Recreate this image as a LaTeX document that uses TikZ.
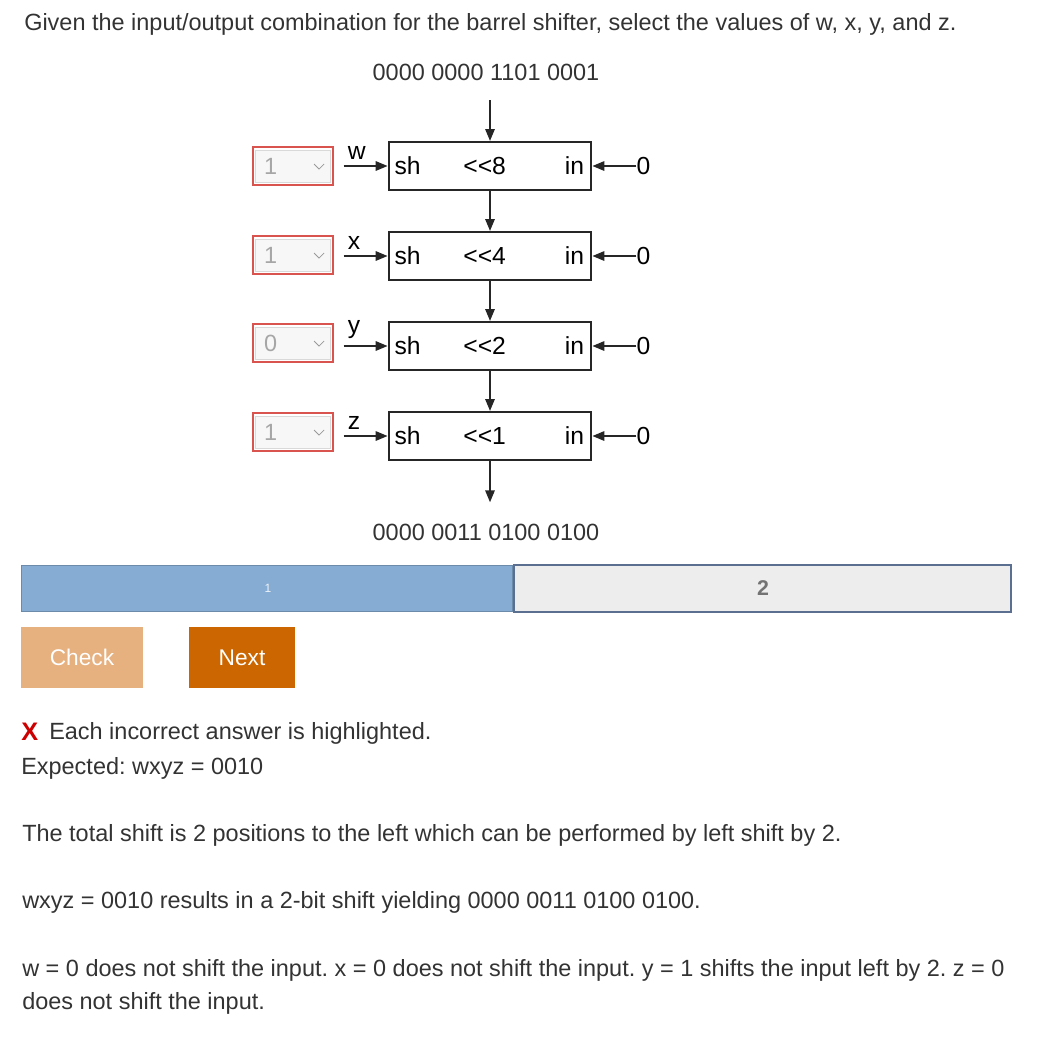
\documentclass[tikz,border=0pt]{standalone}
\usepackage{fontspec}
\setmainfont{Liberation Sans}
\usetikzlibrary{positioning,arrows.meta}
\frenchspacing

\definecolor{wrongred}{HTML}{D9534F}
\definecolor{barblue}{HTML}{87ACD3}
\definecolor{barline}{HTML}{5B6F90}
\definecolor{checkbtn}{HTML}{E6B07F}
\definecolor{nextbtn}{HTML}{CC6600}
\definecolor{bodytext}{HTML}{333333}

\tikzset{
  shbox/.style={draw=black!85, line width=1.5pt, minimum width=152pt, minimum height=36pt, inner sep=0pt},
  shtext/.style={font=\fontsize{18.5}{20}\selectfont, inner sep=0pt},
  wire/.style={-{Triangle[length=9pt,width=7pt]}, line width=1.5pt, black!85},
  pick/.style={draw=wrongred, line width=1.6pt, minimum width=60pt, minimum height=28pt, inner sep=0pt},
  pickin/.style={draw=black!15, fill=black!3, line width=0.5pt, minimum width=56pt, minimum height=24pt, inner sep=0pt},
  pickval/.style={text=black!35, inner sep=0pt},
  para/.style={anchor=base west, inner sep=0pt, text=bodytext},
  button/.style={text=white, font=\fontsize{17}{20}\selectfont}
}

\begin{document}
\begin{tikzpicture}[x=0.75pt, y=-0.75pt, font=\fontsize{17.6}{21}\selectfont]
  \useasboundingbox (0,0) rectangle (1041,1040);

  \node[para] (title) at (24,30.5) {Given the input/output combination for the barrel shifter, select the values of w, x, y, and z.};

  % barrel shifter
  \node[text=bodytext] (inword) at (486,72) {0000 0000 1101 0001};
  \node[shbox] (s8) at (490,166) {};
  \node[shbox, below=30pt of s8] (s4) {};
  \node[shbox, below=30pt of s4] (s2) {};
  \node[shbox, below=30pt of s2] (s1) {};
  \coordinate (top) at (490,100);
  \coordinate[below=31pt of s1] (bot);
  \node[text=bodytext] (outword) at (486,532) {0000 0011 0100 0100};

  \draw[wire] (top) -- (s8.north);
  \draw[wire] (s8) -- (s4);
  \draw[wire] (s4) -- (s2);
  \draw[wire] (s2) -- (s1);
  \draw[wire] (s1) -- (bot);

  \node[shtext, right=5pt of s8.west] {sh};
  \node[shtext, right=5pt of s4.west] {sh};
  \node[shtext, right=5pt of s2.west] {sh};
  \node[shtext, right=5pt of s1.west] {sh};
  \node[shtext] at ([xshift=-4pt]s8.center) {<{}<8};
  \node[shtext] at ([xshift=-4pt]s4.center) {<{}<4};
  \node[shtext] at ([xshift=-4pt]s2.center) {<{}<2};
  \node[shtext] at ([xshift=-4pt]s1.center) {<{}<1};
  \node[shtext, left=6pt of s8.east] {in};
  \node[shtext, left=6pt of s4.east] {in};
  \node[shtext, left=6pt of s2.east] {in};
  \node[shtext, left=6pt of s1.east] {in};

  % fill-in zeros
  \node[shtext, right=33pt of s8.east] (z8) {0};
  \node[shtext, right=33pt of s4.east] (z4) {0};
  \node[shtext, right=33pt of s2.east] (z2) {0};
  \node[shtext, right=33pt of s1.east] (z1) {0};
  \draw[wire] (z8) -- (s8.east);
  \draw[wire] (z4) -- (s4.east);
  \draw[wire] (z2) -- (s2.east);
  \draw[wire] (z1) -- (s1.east);

  % select inputs
  \coordinate[left=33pt of s8.west] (w);
  \coordinate[left=33pt of s4.west] (x);
  \coordinate[left=33pt of s2.west] (y);
  \coordinate[left=33pt of s1.west] (z);
  \draw[wire] (w) -- (s8.west);
  \draw[wire] (x) -- (s4.west);
  \draw[wire] (y) -- (s2.west);
  \draw[wire] (z) -- (s1.west);
  \node[shtext, above right=5pt and 3pt of w] {w};
  \node[shtext, above right=5pt and 3pt of x] {x};
  \node[shtext, above right=5pt and 3pt of y] {y};
  \node[shtext, above right=5pt and 3pt of z] {z};

  % dropdowns
  \node[pick] (pw) at (293,166) {};
  \node[pick] (px) at (293,255) {};
  \node[pick] (py) at (293,343) {};
  \node[pick] (pz) at (293,432) {};
  \node[pickin] at (pw) {};
  \node[pickin] at (px) {};
  \node[pickin] at (py) {};
  \node[pickin] at (pz) {};
  \node[pickval, right=9pt of pw.west] {1};
  \node[pickval, right=9pt of px.west] {1};
  \node[pickval, right=9pt of py.west] {0};
  \node[pickval, right=9pt of pz.west] {1};
  \draw[black!40, line width=0.6pt] ([shift={(-20,-2)}]pw.east) -- ++(5,5) -- ++(5,-5);
  \draw[black!40, line width=0.6pt] ([shift={(-20,-2)}]px.east) -- ++(5,5) -- ++(5,-5);
  \draw[black!40, line width=0.6pt] ([shift={(-20,-2)}]py.east) -- ++(5,5) -- ++(5,-5);
  \draw[black!40, line width=0.6pt] ([shift={(-20,-2)}]pz.east) -- ++(5,5) -- ++(5,-5);

  % progress bar
  \draw[fill=barblue, draw=barblue!80!black, line width=0.7pt] (21,565) rectangle (512,611);
  \node[text=white!85!barblue, font=\fontsize{9}{10}\selectfont] (lev1) at (268,588) {1};
  \draw[fill=black!7, draw=barline, line width=2.2pt] (514,565) rectangle (1011,612);
  \node[text=black!55, font=\bfseries\fontsize{16}{18}\selectfont] (lev2) at (763,588) {2};

  % buttons
  \node[button, fill=checkbtn, minimum width=91.5pt, minimum height=46pt] (check) at (82,657.5) {Check};
  \node[button, fill=nextbtn, minimum width=79.5pt, minimum height=46pt] (next) at (242,657.5) {Next};

  % feedback
  \node[para, text=red!80!black, font=\bfseries\fontsize{19}{20}\selectfont] (cross) at (21,740) {X};
  \node[para] (fb1) at (49,739.5) {Each incorrect answer is highlighted.};
  \node[para] (fb2) at (21,774.5) {Expected: wxyz = 0010};
  \node[para] (ex1) at (22,841.5) {The total shift is 2 positions to the left which can be performed by left shift by 2.};
  \node[para] (ex2) at (22,908.5) {wxyz = 0010 results in a 2-bit shift yielding 0000 0011 0100 0100.};
  \node[para] (ex3) at (22,976.5) {w = 0 does not shift the input. x = 0 does not shift the input. y = 1 shifts the input left by 2. z = 0};
  \node[para] (ex4) at (22,1009.5) {does not shift the input.};
\end{tikzpicture}
\end{document}
